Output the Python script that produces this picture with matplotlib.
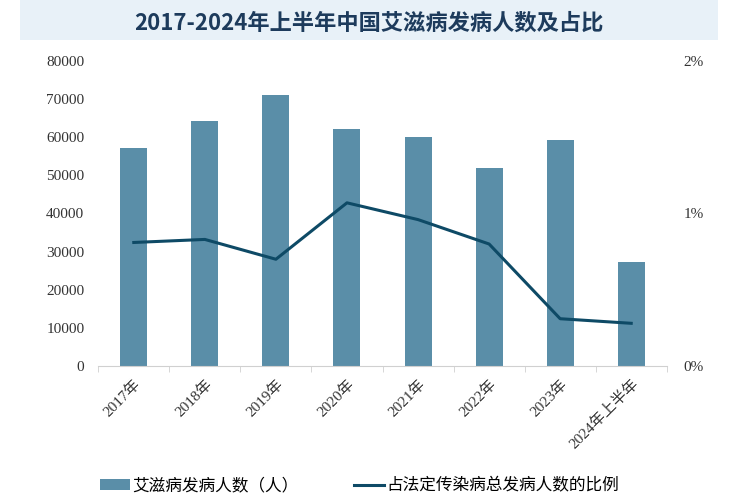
import matplotlib
matplotlib.use("Agg")
import matplotlib.pyplot as plt
from matplotlib.patches import Rectangle

categories = ["2017年", "2018年", "2019年", "2020年", "2021年", "2022年", "2023年", "2024年上半年"]
cases = [57194, 64170, 71204, 62167, 60154, 52058, 59300, 27283]
ratio = [0.81, 0.83, 0.70, 1.07, 0.96, 0.80, 0.31, 0.28]
left_ticks = [0, 10000, 20000, 30000, 40000, 50000, 60000, 70000, 80000]
right_ticks = [0, 1, 2]

title = "2017-2024年上半年中国艾滋病发病人数及占比"
bar_label = "艾滋病发病人数（人）"
line_label = "占法定传染病总发病人数的比例"

bar_color = "#5a8ea8"
line_color = "#0e4a66"
serif = ["Liberation Serif", "Noto Sans CJK SC"]
cjk = ["Noto Sans CJK SC", "DejaVu Sans"]

fig = plt.figure(figsize=(7.5, 5), dpi=100)
fig.patches.append(Rectangle((0.027, 0.92), 0.93, 0.08, transform=fig.transFigure,
                             facecolor="#e8f1f8", edgecolor="none", zorder=0))
fig.text(0.492, 0.954, title, ha="center", va="center", fontsize=16, fontweight="bold",
         color="#1d3b5c", family=cjk)

ax = fig.add_axes([0.131, 0.268, 0.758, 0.61])
x = list(range(len(categories)))
bars = ax.bar(x, cases, width=0.38, color=bar_color, label=bar_label, zorder=2)
ax.set_xlim(-0.5, len(categories) - 0.5)
ax.set_ylim(0, 80000)
ax.set_yticks(left_ticks)
ax.set_yticklabels([str(v) for v in left_ticks], family=serif, fontsize=11, color="#333333")
ax.set_xticks(x)
ax.set_xticklabels(categories, rotation=45, ha="right", rotation_mode="anchor",
                   family=serif, fontsize=11, color="#333333")
ax.set_xticks([i + 0.5 for i in range(-1, len(categories))], minor=True)
ax.tick_params(axis="x", which="major", length=0, pad=8)
ax.tick_params(axis="x", which="minor", length=4, color="#d0d0d0")
ax.tick_params(axis="y", length=0, pad=10)
for s in ["top", "right", "left"]:
    ax.spines[s].set_visible(False)
ax.spines["bottom"].set_color("#d0d0d0")

ax2 = ax.twinx()
ln, = ax2.plot(x, ratio, color=line_color, linewidth=2.2, label=line_label, zorder=3)
ax2.set_ylim(0, 2)
ax2.set_yticks(right_ticks)
ax2.set_yticklabels([f"{v}%" for v in right_ticks], family=serif, fontsize=11, color="#333333")
ax2.tick_params(axis="y", length=0, pad=12)
for s in ["top", "right", "left", "bottom"]:
    ax2.spines[s].set_visible(False)

fig.legend([bars, ln], [bar_label, line_label], loc="center left",
           bbox_to_anchor=(0.1333, 0.028), ncol=2, frameon=False,
           prop={"family": cjk, "size": 12}, handlelength=1.8, handleheight=0.6,
           columnspacing=3.3, handletextpad=0.15, borderpad=0, borderaxespad=0)

fig.savefig("out.png", dpi=100)
